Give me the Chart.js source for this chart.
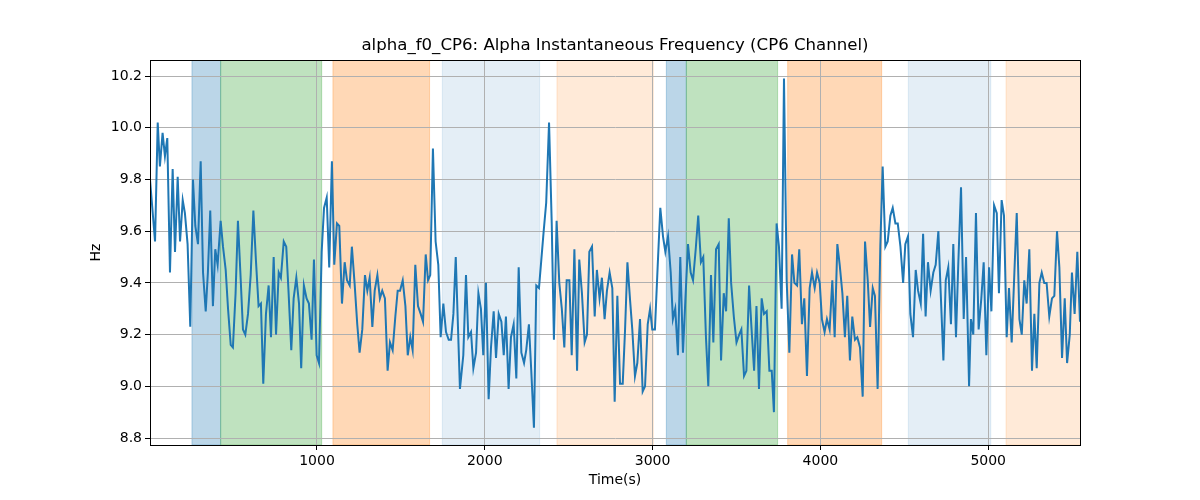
<!DOCTYPE html>
<html>
<head>
<meta charset="utf-8">
<script src="https://cdn.jsdelivr.net/npm/chart.js@4"></script>
<style>
  body { margin: 0; background: #fff; }
</style>
</head>
<body>
<canvas id="grafico" width="1200" height="500"></canvas>
<script>
// Datos (tiempo en s, frecuencia en Hz)
const times = [5,35,51,64,80,94,108,124,140,154,170,184,200,213,229,245,261,275,291,307,321,337,350,364,380,394,408,426,440,456,470,486,499,515,529,545,559,573,589,605,621,636,652,666,680,696,712,726,742,756,772,785,802,817,831,847,861,877,893,906,922,
  938,952,968,982,998,1012,1028,1042,1058,1073,1089,1103,1119,1133,1149,1165,1179,1195,1208,1224,1240,1254,1270,1286,1300,1314,1330,1344,1360,1375,1389,1405,1421,1435,1451,1467,1481,1495,1511,1527,1541,1556,1570,1586,1602,1618,1632,1648,1662,1675,1691,1707,1723,1737,1753,1769,1785,1799,1813,1827,1852,
  1872,1888,1902,1918,1932,1948,1962,1977,1991,2007,2023,2037,2053,2067,2083,2099,2113,2126,2142,2156,2172,2188,2202,2218,2234,2247,2263,2277,2293,2307,2323,2337,2351,2366,2383,2399,2412,2428,2444,2459,2474,2488,2504,2518,2534,2550,2563,2579,2595,2609,2623,2639,2655,2668,2684,2698,2714,2728,2744,2760,2774,
  2790,2806,2822,2836,2850,2865,2879,2895,2909,2925,2941,2955,2971,2985,2998,3014,3030,3046,3062,3076,3092,3108,3121,3135,3151,3165,3181,3195,3211,3227,3241,3257,3272,3288,3302,3318,3332,3348,3362,3378,3394,3408,3424,3438,3454,3468,3484,3500,3516,3529,3545,3559,3575,3589,3605,3619,3634,3650,3664,3680,3696,
  3710,3723,3739,3753,3769,3783,3799,3815,3831,3845,3861,3874,3890,3904,3920,3936,3950,3966,3980,3996,4009,4025,4039,4055,4071,4085,4101,4115,4131,4146,4160,4176,4190,4206,4220,4236,4252,4266,4282,4296,4312,4325,4341,4357,4371,4387,4401,4417,4431,4447,4461,4477,4493,4506,4522,4536,4552,4568,4582,4598,4612,
  4627,4641,4657,4673,4687,4703,4717,4733,4747,4762,4778,4792,4808,4822,4838,4854,4868,4886,4897,4911,4927,4943,4959,4973,4989,5005,5019,5035,5051,5064,5080,5094,5110,5124,5140,5156,5170,5186,5200,5215,5229,5245,5261,5275,5289,5305,5319,5334,5348,5364,5380,5394,5410,5424,5440,5456,5470,5486,5499,5515,5531,5547];

const freq = [9.80,9.56,10.02,9.85,9.98,9.89,9.96,9.44,9.84,9.52,9.81,9.56,9.72,9.67,9.55,9.23,9.80,9.62,9.55,9.87,9.44,9.29,9.44,9.68,9.31,9.53,9.47,9.64,9.54,9.45,9.30,9.16,9.15,9.36,9.64,9.42,9.22,9.20,9.28,9.43,9.68,9.49,9.31,9.32,9.01,9.28,9.39,9.19,9.50,9.20,9.44,9.42,9.56,9.54,9.36,9.14,9.34,9.42,9.32,9.07,9.39,
  9.34,9.32,9.18,9.49,9.12,9.09,9.52,9.69,9.73,9.46,9.87,9.47,9.63,9.62,9.32,9.48,9.41,9.39,9.54,9.40,9.24,9.13,9.22,9.43,9.37,9.42,9.23,9.37,9.43,9.34,9.37,9.34,9.06,9.17,9.14,9.27,9.37,9.37,9.41,9.31,9.12,9.19,9.14,9.47,9.31,9.28,9.25,9.51,9.41,9.43,9.92,9.56,9.47,9.19,9.32,9.21,9.18,9.18,9.28,9.50,8.99,
  9.12,9.43,9.19,9.21,9.07,9.13,9.36,9.30,9.12,9.40,8.95,9.15,9.29,9.11,9.28,9.25,9.12,9.27,8.99,9.19,9.24,9.03,9.46,9.13,9.09,9.14,9.24,9.06,8.84,9.39,9.38,9.49,9.60,9.71,10.02,9.63,9.18,9.64,9.40,9.30,9.15,9.41,9.41,9.12,9.53,9.06,9.49,9.36,9.17,9.20,9.52,9.54,9.27,9.45,9.34,9.42,9.26,9.37,9.44,9.38,8.94,
  9.35,9.01,9.01,9.22,9.48,9.34,9.22,9.04,9.09,9.26,8.98,9.00,9.24,9.30,9.22,9.22,9.46,9.69,9.58,9.52,9.58,9.44,9.26,9.30,9.12,9.50,9.13,9.33,9.55,9.44,9.41,9.53,9.66,9.48,9.50,9.19,9.00,9.43,9.17,9.53,9.55,9.10,9.36,9.29,9.65,9.40,9.27,9.17,9.20,9.22,9.04,9.06,9.39,9.23,9.06,9.31,8.99,9.34,9.28,9.29,9.06,
  9.06,8.90,9.63,9.54,9.30,10.19,9.41,9.13,9.51,9.40,9.39,9.53,9.24,9.34,9.04,9.38,9.44,9.38,9.44,9.40,9.26,9.21,9.26,9.22,9.41,9.19,9.55,9.47,9.36,9.19,9.35,9.10,9.27,9.18,9.19,9.15,8.96,9.56,9.41,9.23,9.38,9.35,8.99,9.54,9.85,9.54,9.56,9.66,9.69,9.63,9.63,9.54,9.40,9.55,9.58,9.28,9.19,9.45,9.37,9.32,9.59,
  9.27,9.48,9.37,9.44,9.47,9.60,9.36,9.10,9.41,9.46,9.24,9.55,9.19,9.48,9.77,9.26,9.50,9.00,9.26,9.20,9.67,9.22,9.34,9.48,9.12,9.46,9.29,9.70,9.67,9.36,9.72,9.66,9.19,9.38,9.17,9.44,9.67,9.26,9.20,9.41,9.32,9.53,9.06,9.28,9.07,9.40,9.44,9.40,9.40,9.27,9.34,9.35,9.60,9.46,9.11,9.34,9.09,9.20,9.44,9.28,9.52,9.25];

// Intervalos sombreados (s) y su tipo
const spanStart = [255, 426, 1095, 1747, 2430, 3082, 3201, 3805, 4524, 5106];
const spanEnd   = [426, 1028, 1671, 2327, 3004, 3201, 3745, 4365, 5015, 5560];
const spanKind  = ['azul', 'verde', 'naranja', 'azulClaro', 'naranjaClaro', 'azul', 'verde', 'naranja', 'azulClaro', 'naranjaClaro'];

const yTicks = [8.8, 9.0, 9.2, 9.4, 9.6, 9.8, 10.0, 10.2];
const xTicks = [1000, 2000, 3000, 4000, 5000];

const titulo = 'alpha_f0_CP6: Alpha Instantaneous Frequency (CP6 Channel)';

const colores = {
  azul: 'rgba(31,119,180,0.3)',
  verde: 'rgba(44,160,44,0.3)',
  naranja: 'rgba(255,127,14,0.3)',
  azulClaro: 'rgba(31,119,180,0.12)',
  naranjaClaro: 'rgba(255,127,14,0.16)'
};

// Sombreado, marco y título centrado sobre el área del gráfico
const spanPlugin = {
  id: 'spans',
  beforeDraw(chart) {
    const { ctx, chartArea: a, scales: { x } } = chart;
    ctx.save();
    ctx.beginPath();
    ctx.rect(a.left, a.top, a.width, a.height);
    ctx.clip();
    spanStart.forEach((s, i) => {
      const x0 = x.getPixelForValue(s);
      const x1 = x.getPixelForValue(spanEnd[i]);
      ctx.fillStyle = colores[spanKind[i]];
      ctx.fillRect(x0, a.top, x1 - x0, a.height);
      ctx.strokeStyle = colores[spanKind[i]];
      ctx.lineWidth = 1;
      ctx.strokeRect(x0, a.top, x1 - x0, a.height);
    });
    ctx.restore();
  },
  afterDraw(chart) {
    const { ctx, chartArea: a } = chart;
    ctx.save();
    ctx.strokeStyle = '#000';
    ctx.lineWidth = 1;
    ctx.strokeRect(Math.round(a.left) + 0.5, Math.round(a.top) + 0.5, Math.round(a.width), Math.round(a.height));
    ctx.fillStyle = '#000';
    ctx.font = "16.6px 'DejaVu Sans', sans-serif";
    ctx.textAlign = 'center';
    ctx.textBaseline = 'middle';
    ctx.fillText(titulo, (a.left + a.right) / 2, 46);
    ctx.restore();
  }
};

Chart.defaults.font.family = "'DejaVu Sans', sans-serif";
Chart.defaults.color = '#000';

const ctx = document.getElementById('grafico').getContext('2d');
new Chart(ctx, {
  type: 'scatter',
  data: {
    datasets: [{
      data: times.map((t, i) => ({ x: t, y: freq[i] })),
      showLine: true,
      borderColor: '#1f77b4',
      borderWidth: 2,
      pointRadius: 0,
      tension: 0
    }]
  },
  options: {
    responsive: false,
    animation: false,
    layout: { padding: { left: 0, right: 120, top: 60, bottom: 0 } },
    plugins: {
      legend: { display: false },
      tooltip: { enabled: false },
      title: { display: false }
    },
    scales: {
      x: {
        type: 'linear',
        min: times[0],
        max: times[times.length - 1],
        afterFit: s => { s.height = 55; },
        afterBuildTicks: s => { s.ticks = xTicks.map(v => ({ value: v })); },
        ticks: { font: { size: 14 }, color: '#000', padding: 3, maxRotation: 0, callback: v => String(v) },
        grid: { color: '#b0b0b0', lineWidth: 1, tickLength: 5, tickColor: '#000' },
        border: { color: '#000', width: 1 },
        title: { display: true, text: 'Time(s)', font: { size: 14 }, color: '#000', padding: { top: 0, bottom: 11 } }
      },
      y: {
        min: 8.773,
        max: 10.262,
        afterFit: s => { s.width = 150; },
        afterBuildTicks: s => { s.ticks = yTicks.map(v => ({ value: v })); },
        ticks: { font: { size: 14 }, color: '#000', padding: 3, callback: v => v.toFixed(1) },
        grid: { color: '#b0b0b0', lineWidth: 1, tickLength: 5, tickColor: '#000' },
        border: { color: '#000', width: 1 },
        title: { display: true, text: 'Hz', font: { size: 14 }, color: '#000', padding: { top: 88, bottom: 0 } }
      }
    }
  },
  plugins: [spanPlugin]
});
</script>
</body>
</html>
